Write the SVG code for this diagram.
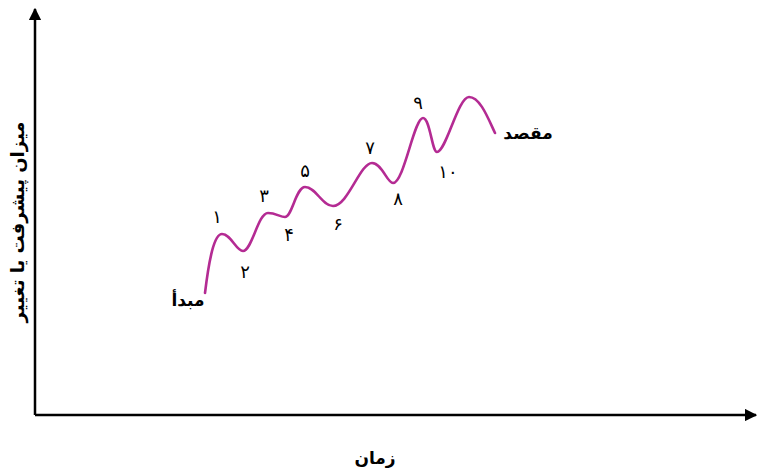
<svg xmlns="http://www.w3.org/2000/svg" width="758" height="470" viewBox="0 0 758 470">
<style>
.ax{stroke:#000;stroke-width:2.5;fill:none}
.curve{stroke:#b42b93;stroke-width:2.6;fill:none;stroke-linecap:round}
.num{font-family:"DejaVu Sans",sans-serif;font-size:18px;fill:#000;text-anchor:middle}
.lbl{font-family:"DejaVu Sans",sans-serif;font-size:17px;font-weight:bold;fill:#000;text-anchor:middle}
</style>
<defs>
<marker id="ah" viewBox="0 0 10 10" refX="9" refY="5" markerWidth="5" markerHeight="5" orient="auto" markerUnits="strokeWidth">
<path d="M0,0 L10,5 L0,10 z" fill="#000"/>
</marker>
</defs>
<g id="connectors">
<path class="ax" d="M35,415 L35,9" marker-end="url(#ah)"/>
<path class="ax" d="M35,415 L756,415" marker-end="url(#ah)"/>
<path class="curve" d="M205,293 C209,260 214,234 222,234 C231,234 236,251 243,251 C252,251 258,213 268,213 C276,213 280,217 285,217 C292,217 296,187 305,187 C316,187 322,206 333,206 C348,206 360,163 372,163 C382,163 387,183 393,183 C404,183 414,118 423,118 C430,118 432,152 437,152 C446,152 458,97 469,97 C480,97 488,118 495,133"/>
</g>
<g id="labels">
<text class="num" x="217" y="223">۱</text>
<text class="num" x="245" y="278">۲</text>
<text class="num" x="264" y="202">۳</text>
<text class="num" x="289" y="241">۴</text>
<text class="num" x="305" y="177">۵</text>
<text class="num" x="338" y="230">۶</text>
<text class="num" x="370" y="154">۷</text>
<text class="num" x="398" y="205">۸</text>
<text class="num" x="418" y="109">۹</text>
<text class="num" x="448" y="178">۱۰</text>
</g>
<g id="start"><text class="lbl" x="188" y="306">مبدأ</text></g>
<g id="goal"><text class="lbl" x="528" y="139">مقصد</text></g>
<g id="xlabel"><text class="lbl" x="375" y="464">زمان</text></g>
<g id="ylabel"><text class="lbl" transform="translate(24,222) rotate(-90)" x="0" y="0" style="font-size:18px">میزان پیشرفت یا تغییر</text></g>
</svg>
